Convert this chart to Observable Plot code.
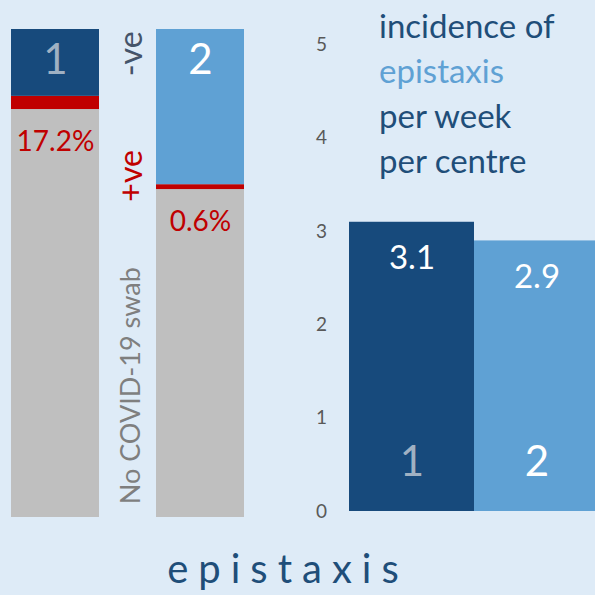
<!DOCTYPE html>
<html><head><meta charset="utf-8">
<script src="https://cdn.jsdelivr.net/npm/d3@7"></script>
<script src="https://cdn.jsdelivr.net/npm/@observablehq/plot@0.6"></script>
<style>
html,body{margin:0;padding:0;background:#deebf7;}
#wrap{position:relative;width:595px;height:595px;overflow:hidden;background:#deebf7;font-family:Lato,"Open Sans",sans-serif;}
#left,#right{position:absolute;top:0;}
#left{left:0;}
#right{left:300px;}
#title{position:absolute;left:379px;top:3px;font-size:33px;line-height:45px;color:#1f4e79;font-weight:400;white-space:nowrap;}
#title .hl{color:#5fa1d4;}
#caption{position:absolute;left:0;width:576px;text-align:center;top:544px;font-size:40px;line-height:48px;letter-spacing:10px;color:#1f4e79;font-weight:400;}
</style></head>
<body>
<div id="wrap">
  <div id="left"></div>
  <div id="right"></div>
  <div id="title">incidence of<br><span class="hl">epistaxis</span><br>per week<br>per centre</div>
  <div id="caption">epistaxis</div>
</div>
<script>
// ---- data ----
const groups = ["1", "2"];
const segments = ["No COVID-19 swab", "+ve", "-ve"];
const shares1 = [83.6, 2.7, 13.7];
const shares2 = [67.2, 1.0, 31.8];
const pctLabels = ["17.2%", "0.6%"];
const sideLabels = ["-ve", "+ve", "No COVID-19 swab"];

const centres = ["1", "2"];
const incidence = [3.1, 2.9];
const valueLabels = ["3.1", "2.9"];
const yTicks = [0, 1, 2, 3, 4, 5];

// ---- styles ----
const dark = "#174a7c", light = "#5fa1d4", grey = "#bfbfbf", red = "#c00000";
const groupColor = {"1": dark, "2": light};
const groupText = {"1": "#a0b1c3", "2": "#ffffff"};
const font = "Lato, 'Open Sans', sans-serif";

// ---- left: stacked bars ----
const rows = [];
[shares1, shares2].forEach((arr, gi) => {
  segments.forEach((s, si) => rows.push({group: groups[gi], segment: s, value: arr[si]}));
});
const segFill = d => d.segment === "-ve" ? groupColor[d.group] : d.segment === "+ve" ? red : grey;
const noneShare = {"1": shares1[0], "2": shares2[0]};
const sideY = {"-ve": 95, "+ve": 70, "No COVID-19 swab": 27};
const sideColor = {"-ve": "#44546a", "+ve": red, "No COVID-19 swab": "#7f7f7f"};
const sideSize = {"-ve": 32, "+ve": 32, "No COVID-19 swab": 27};

const left = Plot.plot({
  width: 300, height: 595,
  margin: 0,
  style: {background: "transparent", fontFamily: font},
  x: {type: "band", domain: groups, range: [10, 245], paddingInner: 0.39, paddingOuter: 0, axis: null},
  y: {domain: [0, 100], range: [517, 29], axis: null},
  color: {type: "identity"},
  marks: [
    Plot.barY(rows, Plot.stackY({x: "group", y: "value", z: "segment", fill: segFill, inset: 0})),
    Plot.text(groups, {x: d => d, y: () => 100, dy: 31, text: d => d, fill: d => groupText[d], fontSize: 42, fontWeight: 400, ariaLabel: "grouplabel"}),
    Plot.text(groups, {x: d => d, y: d => noneShare[d], dy: 32, text: (d, i) => pctLabels[i], fill: red, fontSize: 28, fontWeight: 400}),
    ...sideLabels.map(s => Plot.text([s], {x: () => "1", y: () => sideY[s], dx: 76, rotate: -90, text: d => d, fill: sideColor[s], fontSize: sideSize[s], fontWeight: 400}))
  ]
});
document.getElementById("left").appendChild(left);

// ---- right: incidence bars ----
const bars = centres.map((c, i) => ({centre: c, value: incidence[i], label: valueLabels[i]}));
const right = Plot.plot({
  width: 295, height: 595,
  marginLeft: 49, marginRight: 0, marginTop: 0, marginBottom: 0,
  style: {background: "transparent", fontFamily: font},
  x: {type: "band", domain: centres, range: [49, 299], padding: 0, axis: null},
  y: {domain: [0, 5], range: [511, 44.5]},
  color: {type: "identity"},
  marks: [
    Plot.barY(bars, {x: "centre", y: "value", fill: d => groupColor[d.centre], inset: 0}),
    Plot.axisY({ticks: yTicks, tickSize: 0, tickPadding: 28, textAnchor: "middle", fontSize: 19, fontWeight: 400, color: "#595959", label: null, tickFormat: d => String(d)}),
    Plot.text(bars, {x: "centre", y: "value", dy: 36.5, text: "label", fill: "#ffffff", fontSize: 33, fontWeight: 400}),
    Plot.text(bars, {x: "centre", y: () => 0, dy: -48.5, text: "centre", fill: d => groupText[d.centre], fontSize: 42, fontWeight: 400, ariaLabel: "grouplabel"})
  ]
});
document.getElementById("right").appendChild(right);

d3.selectAll('g[aria-label="grouplabel"] text').style("filter", "drop-shadow(2px 2px 2px rgba(0,0,0,0.5))");
</script>
</body></html>
